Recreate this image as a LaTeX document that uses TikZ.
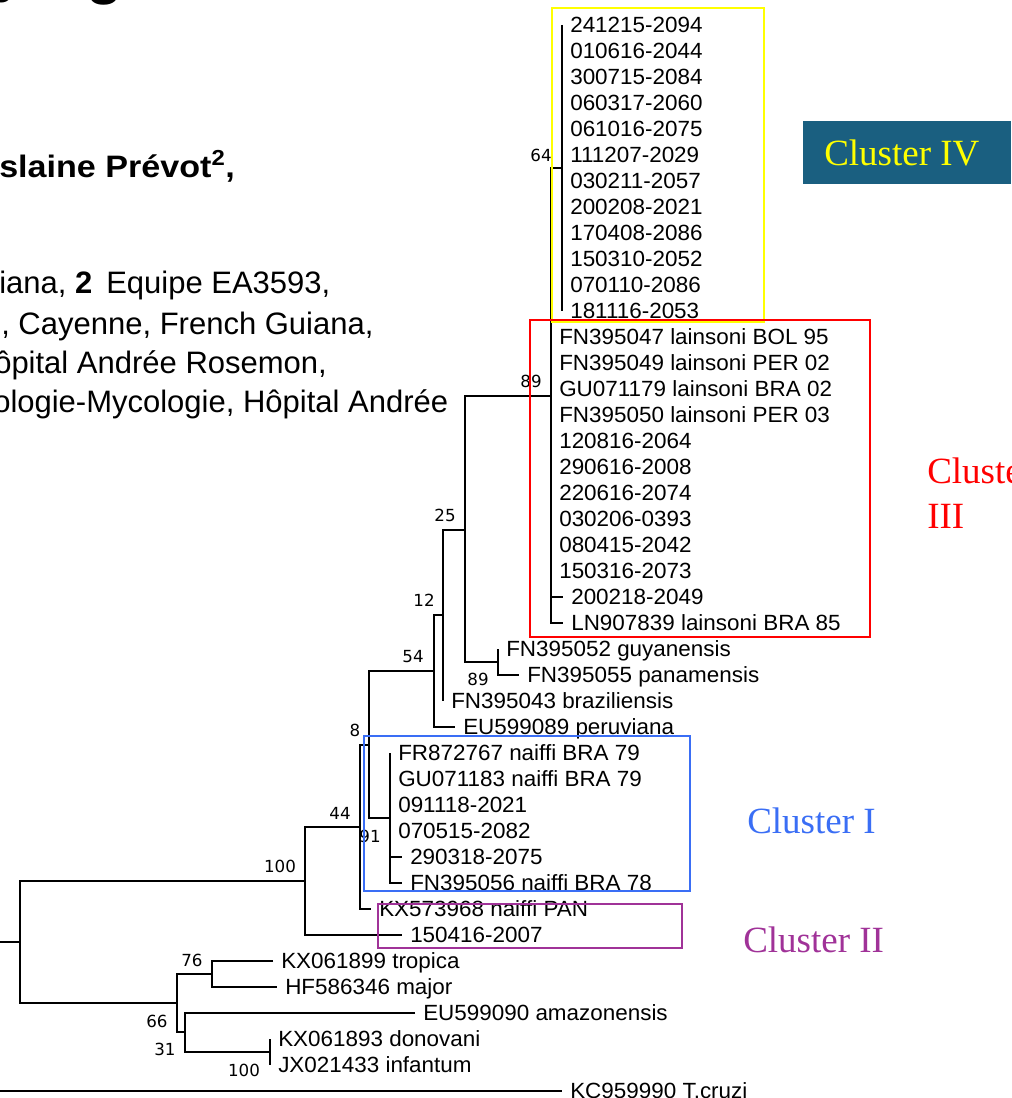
\documentclass[tikz,border=0pt]{standalone}
\usepackage{fontspec}
\setmainfont{Liberation Serif}
\newfontfamily\leaffont[FakeStretch=1.02]{Liberation Sans}
\newfontfamily\bootfont{DejaVu Sans}
\newfontfamily\headfont{Liberation Sans}
\newfontfamily\headbold[FakeStretch=1.1]{Liberation Sans}
\definecolor{tealbox}{RGB}{26,95,128}
\definecolor{clblue}{RGB}{58,110,245}
\definecolor{clpurple}{RGB}{160,50,152}
\definecolor{clyellow}{RGB}{255,255,0}
\definecolor{clred}{RGB}{255,0,0}
\begin{document}
\begin{tikzpicture}[x=0.75pt,y=-0.75pt,
  br/.style={line width=1.5pt},
  leaf/.style={anchor=west, inner xsep=6pt, inner ysep=0pt, text height=12.75pt, text depth=1.5pt,
    font=\leaffont\fontsize{16.5pt}{19pt}\selectfont},
  boot/.style={font=\bootfont\fontsize{12.5pt}{14pt}\selectfont, inner sep=0pt},
  clus/.style={font=\fontsize{27.75pt}{33.75pt}\selectfont, inner sep=0pt, anchor=base west},
  head/.style={font=\headfont\fontsize{23.25pt}{28pt}\selectfont, inner sep=0pt, anchor=base west},
  cbox/.style={line width=2.1pt},
]
\useasboundingbox (0,0) rectangle (1011,1098);
\clip (0,0) rectangle (1011,1098);

% ---- header fragments (cut page text) ----
\node[head, font=\headfont\bfseries\fontsize{45pt}{50pt}\selectfont] (tY) at (-7,-9) {y};
\node[head, font=\headfont\bfseries\fontsize{45pt}{50pt}\selectfont] (tG) at (86,-7) {g};
\node[head, font=\headbold\bfseries\fontsize{23.25pt}{28pt}\selectfont] (hA) at (-1,178) {slaine Prévot\textsuperscript{2},};
\node[head] (hB) at (-1,293) {iana, \textbf{2}\hspace{0.45em}Equipe EA3593,};
\node[head] (hC) at (1,334) {, Cayenne, French Guiana,};
\node[head] (hD) at (-6,373) {ôpital Andrée Rosemon,};
\node[head] (hE) at (-7,412) {ologie-Mycologie, Hôpital Andrée};

% ---- leaves ----
\node[leaf] (a1)  at (562,25)  {241215-2094};
\node[leaf] (a2)  at (562,51)  {010616-2044};
\node[leaf] (a3)  at (562,77)  {300715-2084};
\node[leaf] (a4)  at (562,103) {060317-2060};
\node[leaf] (a5)  at (562,129) {061016-2075};
\node[leaf] (a6)  at (562,155) {111207-2029};
\node[leaf] (a7)  at (562,181) {030211-2057};
\node[leaf] (a8)  at (562,207) {200208-2021};
\node[leaf] (a9)  at (562,233) {170408-2086};
\node[leaf] (a10) at (562,259) {150310-2052};
\node[leaf] (a11) at (562,285) {070110-2086};
\node[leaf] (a12) at (562,311) {181116-2053};

\node[leaf] (b1)  at (551,337) {FN395047 lainsoni BOL 95};
\node[leaf] (b2)  at (551,363) {FN395049 lainsoni PER 02};
\node[leaf] (b3)  at (551,389) {GU071179 lainsoni BRA 02};
\node[leaf] (b4)  at (551,415) {FN395050 lainsoni PER 03};
\node[leaf] (b5)  at (551,441) {120816-2064};
\node[leaf] (b6)  at (551,467) {290616-2008};
\node[leaf] (b7)  at (551,493) {220616-2074};
\node[leaf] (b8)  at (551,519) {030206-0393};
\node[leaf] (b9)  at (551,545) {080415-2042};
\node[leaf] (b10) at (551,571) {150316-2073};
\node[leaf] (b11) at (563,597) {200218-2049};
\node[leaf] (b12) at (563,623) {LN907839 lainsoni BRA 85};

\node[leaf] (guy) at (498,649) {FN395052 guyanensis};
\node[leaf] (pan) at (519,675) {FN395055 panamensis};
\node[leaf] (bra) at (443,701) {FN395043 braziliensis};
\node[leaf] (per) at (455,727) {EU599089 peruviana};

\node[leaf] (c1) at (390,753) {FR872767 naiffi BRA 79};
\node[leaf] (c2) at (390,779) {GU071183 naiffi BRA 79};
\node[leaf] (c3) at (390,805) {091118-2021};
\node[leaf] (c4) at (390,831) {070515-2082};
\node[leaf] (c5) at (402,857) {290318-2075};
\node[leaf] (c6) at (402,883) {FN395056 naiffi BRA 78};

\node[leaf] (kxp)  at (371,909) {KX573968 naiffi PAN};
\node[leaf] (d150) at (402,935) {150416-2007};
\node[leaf] (trop) at (273,961) {KX061899 tropica};
\node[leaf] (maj)  at (277,987) {HF586346 major};
\node[leaf] (amz)  at (415,1013) {EU599090 amazonensis};
\node[leaf] (don)  at (270,1039) {KX061893 donovani};
\node[leaf] (inf)  at (270,1065) {JX021433 infantum};
\node[leaf] (tcr)  at (562,1091) {KC959990 T.cruzi};

% ---- internal nodes ----
\coordinate (nIV)  at (562,168);
\coordinate (n89)  at (551,396);
\coordinate (n25)  at (465,530);
\coordinate (nGP)  at (498,662);
\coordinate (n12)  at (443,615);
\coordinate (n54)  at (434,671);
\coordinate (nI)   at (390,818);
\coordinate (n8)   at (369,745);
\coordinate (n44)  at (360,827);
\coordinate (n100) at (305,881);
\coordinate (nR)   at (20,942);
\coordinate (n66)  at (177,1003);
\coordinate (n76)  at (212,974);
\coordinate (n31)  at (185,1032);
\coordinate (nDI)  at (270,1052);
\coordinate (rootL) at (0,942);
\coordinate (tcL)   at (0,1091);

% ---- branches ----
\draw[br] (a1.west) -- (a12.west);
\draw[br] (nIV) -| (n89) |- (b12.west);
\draw[br] (n89) |- (b11.west);
\draw[br] (n89) -| (n25) |- (nGP);
\draw[br] (guy.west) -- (nGP) |- (pan.west);
\draw[br] (n25) -| (n12) |- (bra.west);
\draw[br] (n12) -| (n54) |- (per.west);
\draw[br] (n54) -| (n8) |- (nI);
\draw[br] (c1.west) -- (nI) |- (c6.west);
\draw[br] (nI) |- (c5.west);
\draw[br] (n8) -| (n44) |- (kxp.west);
\draw[br] (n44) -| (n100) |- (d150.west);
\draw[br] (n100) -| (nR) |- (n66);
\draw[br] (rootL) -- (nR);
\draw[br] (n76) -| (n66) |- (n31);
\draw[br] (trop.west) -| (n76) |- (maj.west);
\draw[br] (amz.west) -| (n31) |- (nDI);
\draw[br] (don.west) -- (inf.west);
\draw[br] (tcL) -- (tcr.west);

% ---- bootstrap values ----
\node[boot] (s64)  at (541,155) {64};
\node[boot] (s89a) at (531,381) {89};
\node[boot] (s25)  at (445,515) {25};
\node[boot] (s12)  at (424,600) {12};
\node[boot] (s54)  at (413,657) {54};
\node[boot] (s89b) at (478,679) {89};
\node[boot] (s8)   at (355,730) {8};
\node[boot] (s44)  at (340,813) {44};
\node[boot] (s91)  at (370,836) {91};
\node[boot] (s100a) at (280,866) {100};
\node[boot] (s76)  at (192,960) {76};
\node[boot] (s66)  at (157,1021) {66};
\node[boot] (s31)  at (165,1049) {31};
\node[boot] (s100b) at (244,1070) {100};

% ---- cluster boxes ----
\draw[cbox, draw=clyellow] (552,8) rectangle (764,322);
\draw[cbox, draw=clred] (530,320) rectangle (870,637);
\draw[cbox, draw=clblue] (364,736) rectangle (690,891);
\draw[cbox, draw=clpurple] (378,904) rectangle (682,948);

% ---- cluster labels ----
\fill[tealbox] (803,121) rectangle (1011,184);
\node[clus, text=clyellow] (k4) at (824,166) {Cluster IV};
\node[clus, text=clred] (k3a) at (927,483) {Cluster};
\node[clus, text=clred] (k3b) at (927,528) {III};
\node[clus, text=clblue] (k1) at (747,833) {Cluster I};
\node[clus, text=clpurple] (k2) at (743,952) {Cluster II};
\end{tikzpicture}
\end{document}
